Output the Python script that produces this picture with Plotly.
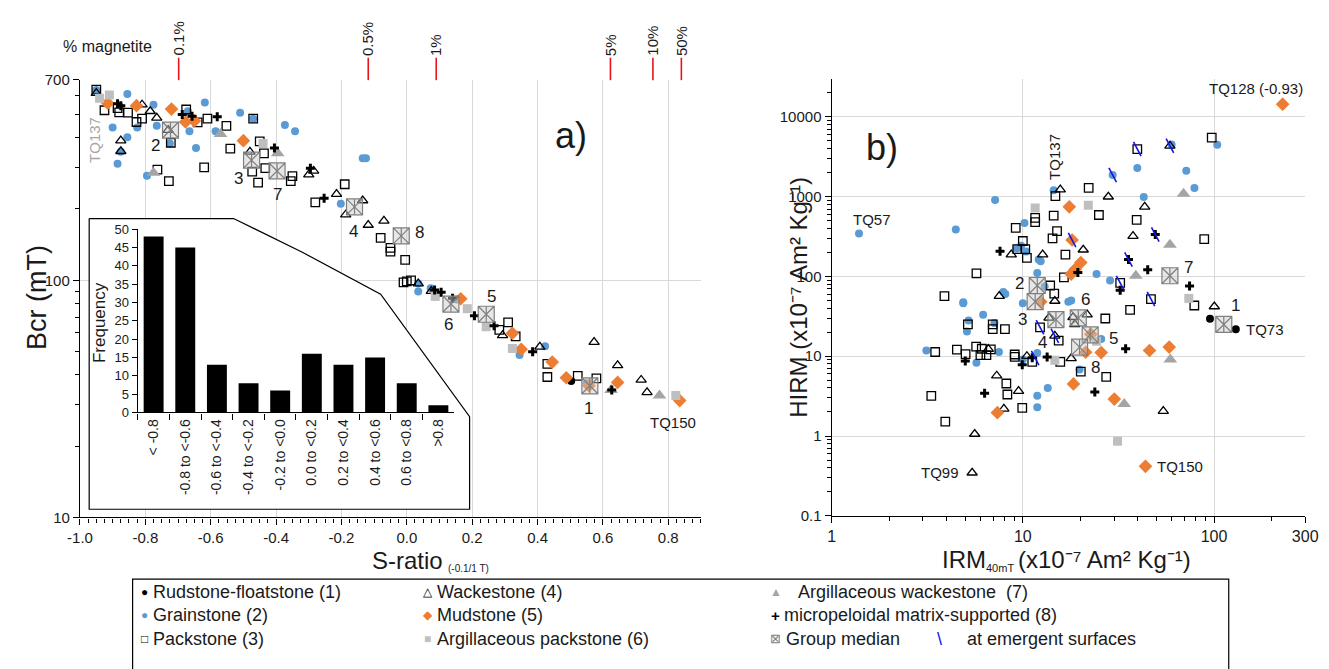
import math
import plotly.graph_objects as go

W, H = 1329, 669
FONT = "Liberation Sans, Arial, Helvetica, sans-serif"
INK = "#1a1a1a"
BLUE = "#5B9BD5"
ORANGE = "#ED7D31"
LIGHT_GRAY = "#BFBFBF"
MID_GRAY = "#A5A5A5"
GRID = "#D9D9D9"
EMERGENT = "#1414E6"
MEDIAN_LINE = "#7F7F7F"

# ---------------------------------------------------------------- panel a
# S-ratio (-0.1/1 T) and Bcr (mT) for each lithofacies group
rud_a_s = [0.503, 0.553]
rud_a_bcr = [37.6, 36.2]

grain_a_s = [-0.950, -0.855, -0.900, -0.855, -0.885, -0.825, -0.775, -0.765, -0.670, -0.665,
             -0.645, -0.618, -0.585, -0.510, -0.470, -0.373, -0.342, -0.135, -0.125, -0.202,
             -0.795, -0.875, -0.725, 0.035, 0.073, 0.035, 0.153, 0.345, 0.423, 0.550]
grain_a_bcr = [634, 610, 441, 401, 310, 441, 550, 448, 516, 425,
               361, 562, 425, 508, 480, 452, 425, 327, 327, 210,
               276, 348, 377, 89.6, 92.5, 97, 83, 48.4, 52.7, 36.8]

pack_a_s = [-0.950, -0.925, -0.885, -0.880, -0.853, -0.827, -0.810, -0.675, -0.640, -0.610,
            -0.552, -0.540, -0.620, -0.763, -0.728, -0.722, -0.470, -0.450, -0.437, -0.433,
            -0.455, -0.473, -0.350, -0.355, -0.280, -0.190, -0.080, -0.050, -0.050, -0.005,
            -0.010, 0.000, 0.013, 0.310, 0.283, 0.333, 0.430, 0.430, 0.523, 0.580]
pack_a_bcr = [637, 521, 532, 510, 509, 465, 480, 525, 463, 480,
              448, 359, 299, 293, 262, 380, 480, 385, 343, 297,
              258, 287, 275, 262, 213, 254, 151, 137, 132, 122,
              98, 99, 100, 66.4, 61.8, 58.0, 44.4, 39.1, 39.5, 38.6]

wack_a_s = [-0.950, -0.810, -0.785, -0.765, -0.875, -0.875, -0.730, -0.480, -0.300, -0.285,
            -0.215, -0.135, -0.187, -0.118, -0.070, 0.035, 0.075, 0.293, 0.407, 0.573,
            0.645, 0.717, 0.735]
wack_a_bcr = [615, 550, 516, 484, 388, 350, 430, 348, 279, 289,
              231, 217, 189, 171, 178, 96.8, 90.0, 58.6, 52.4, 54.9,
              43.8, 38.0, 33.7]

mud_a_s = [-0.915, -0.827, -0.720, -0.677, -0.650, -0.500, 0.165, 0.323, 0.350, 0.445,
           0.488, 0.557, 0.645, 0.835]
mud_a_bcr = [558, 545, 527, 465, 470, 388, 83.6, 59.8, 51.2, 45.2,
             38.8, 35.9, 37.1, 31.1]

argpack_a_s = [-0.940, -0.910, -0.440, 0.087, 0.185, 0.243, 0.323, 0.823]
argpack_a_bcr = [585, 604, 377, 85.5, 75.9, 63.7, 51.6, 32.7]

argwack_a_s = [-0.775, -0.570, -0.395, 0.625, 0.773]
argwack_a_bcr = [284, 414, 343, 34.5, 32.7]

micro_a_s = [-0.885, -0.875, -0.687, -0.657, -0.580, -0.405, -0.295, -0.253, 0.085, 0.105,
             0.140, 0.207, 0.267, 0.385, 0.627]
micro_a_bcr = [555, 545, 500, 492, 489, 361, 297, 222, 91, 89,
               84, 70.8, 64.3, 50.0, 34.5]

group_ids = ["1", "2", "3", "4", "5", "6", "7", "8"]
med_a_s = [0.560, -0.723, -0.475, -0.160, 0.243, 0.135, -0.397, -0.017]
med_a_bcr = [35.9, 430, 321, 204, 71.9, 79.4, 289, 154]

s_ratio_ticks = [-1.0, -0.8, -0.6, -0.4, -0.2, 0.0, 0.2, 0.4, 0.6, 0.8]
bcr_ticks = [10, 100, 700]

# magnetite content equivalent to given S-ratio
magnetite_labels = ["0.1%", "0.5%", "1%", "5%", "10%", "50%"]
magnetite_s = [-0.698, -0.118, 0.090, 0.623, 0.753, 0.840]

# histogram of S-ratio
s_bins = ["< -0.8", "-0.8 to <-0.6", "-0.6 to <-0.4", "-0.4 to <-0.2", "-0.2 to <0.0",
          "0.0 to <0.2", "0.2 to <0.4", "0.4 to <0.6", "0.6 to <0.8", ">0.8"]
s_freq = [48, 45, 13, 8, 6, 16, 13, 15, 8, 2]

# ---------------------------------------------------------------- panel b
# IRM40mT and HIRM (x10^-7 Am2 kg-1)
rud_b_irm = [95.3, 130]
rud_b_hirm = [29.4, 21.8]

grain_b_irm = [1.39, 4.46, 7.16, 10.2, 9.8, 9.3, 10.4, 12.1, 11.9, 7.9,
               8.1, 4.88, 14.5, 24.3, 28.6, 39.7, 29.5, 71.6, 79, 42.9,
               104, 60, 3.13, 5.72, 7.5, 10.0, 11.9, 11.9, 11.9, 13.5,
               6.2, 7.1, 5.2, 5.1, 4.88, 10.0, 17.3, 17.9, 25.7, 19.8,
               13.0, 12.4]
grain_b_hirm = [345, 386, 906, 467, 242, 224, 205, 163, 110, 64,
                60, 47.6, 1200, 107, 88.7, 2290, 1866, 2110, 1285, 986,
                4470, 4500, 11.8, 8.3, 11.3, 9.1, 11.0, 2.3, 3.19, 3.99,
                33, 26, 28, 20.4, 46, 46, 48, 50, 16.4, 6.8,
                75, 155]

pack_b_irm = [11.6, 11.6, 9.18, 10.0, 9.35, 10.3, 10.5, 5.72, 3.89, 22.1,
              25.0, 14.8, 14.5, 15.1, 14.3, 16.7, 16.4, 32.3, 46.8, 39.7,
              97.3, 39.4, 88.9, 27.0, 36.4, 78.9, 27.3, 20.1, 3.93, 3.32,
              9.93, 8.2, 8.3, 3.48, 4.52, 5.02, 5.7, 6.1, 6.0, 6.45,
              6.8, 6.96, 6.96, 5.16, 8.06, 9.07, 9.07, 11.2, 12.3, 13.9,
              14.6, 15.7, 15.4]
pack_b_hirm = [542, 480, 405, 278, 220, 220, 171, 109, 56.6, 1285,
               589, 1014, 578, 369, 300, 188, 97.5, 83, 52, 3950,
               5480, 511, 294, 29.7, 38, 43.2, 5.5, 6.4, 1.51, 3.19,
               2.25, 4.55, 3.31, 11.3, 12.1, 10.6, 13.2, 12.4, 10.3, 10.3,
               12.2, 21.8, 25, 25, 21.8, 10.5, 9.8, 8.5, 23, 77,
               61, 8.5, 15.7]

wack_b_irm = [8.7, 12.7, 7.53, 15.7, 20.7, 58.8, 28.0, 43.4, 37.7, 100.4,
              54.3, 5.43, 5.6, 7.96, 7.3, 9.5, 6.6, 10.5, 14.7, 13.7,
              14.7, 18.3, 18.7, 21.7, 17.9]
wack_b_hirm = [188, 188, 56.6, 1225, 216, 4330, 997, 745, 320, 42,
               2.05, 0.346, 1.06, 2.19, 5.7, 3.66, 12.3, 10.0, 49.2, 30.2,
               18, 30.8, 25, 33.2, 9.4]

mud_b_irm = [228.6, 17.5, 18.1, 20.1, 18.8, 17.9, 7.36, 18.4, 30.1, 46.0,
             58.3, 25.7, 22.7, 21.3, 43.8, 12.4]
mud_b_hirm = [14420, 745, 286, 149, 123, 107, 1.96, 4.5, 2.9, 11.8,
              13.0, 11.1, 18.9, 11.2, 0.417, 48]

argpack_b_irm = [11.6, 22.0, 24.3, 31.3, 73.8, 14.7]
argpack_b_hirm = [718, 781, 15.4, 0.86, 53, 8.9]

argwack_b_irm = [69.3, 58.8, 39.0, 59.1, 33.9]
argwack_b_hirm = [1084, 249, 102, 9.1, 2.52]

micro_b_irm = [7.6, 19.4, 32.3, 35.7, 49.3, 45.0, 74.5, 5.0, 6.31, 9.93,
               11.2, 13.4, 34.5, 23.8]
micro_b_hirm = [207, 112, 67, 163, 336, 121, 75.7, 8.7, 3.44, 7.8,
                9.6, 9.8, 12.4, 3.56]

# samples taken at emergent surfaces
emergent_irm = [39.7, 58.8, 29.5, 18.1, 35.7, 49.3, 32.3, 46.8, 12.3, 14.7, 11.6]
emergent_hirm = [3950, 4330, 1866, 286, 163, 336, 83, 52, 23, 18, 9.5]

med_b_irm = [112.5, 11.9, 11.6, 14.9, 22.5, 19.5, 58.8, 19.8]
med_b_hirm = [25, 77, 48.3, 28.8, 18.5, 30.2, 102, 13]

irm_ticks = [1, 10, 100, 300]
hirm_ticks = [0.1, 1, 10, 100, 1000, 10000]

# ---------------------------------------------------------------- styling
def fx(px):
    return px / W


def fy(py):
    return 1 - py / H


MARKERS = {
    "rud": dict(symbol="circle", size=8, color="black"),
    "grain": dict(symbol="circle", size=8, color=BLUE),
    "pack": dict(symbol="square-open", size=8.5, color="black", line=dict(width=1.3, color="black")),
    "wack": dict(symbol="triangle-up-open", size=9, color="black", line=dict(width=1.3, color="black")),
    "mud": dict(symbol="diamond", size=10.5, color=ORANGE),
    "argpack": dict(symbol="square", size=9, color=LIGHT_GRAY),
    "argwack": dict(symbol="triangle-up", size=12, color=MID_GRAY),
    "micro": dict(symbol="cross", size=7.5, color="black"),
}

fig = go.Figure()


def scatter(x, y, key, xa, ya):
    fig.add_trace(go.Scatter(x=x, y=y, mode="markers", marker=MARKERS[key],
                             xaxis=xa, yaxis=ya, hoverinfo="skip", showlegend=False))


def medians(x, y, xa, ya):
    fig.add_trace(go.Scatter(x=x, y=y, mode="markers", xaxis=xa, yaxis=ya,
                             marker=dict(symbol="square-x", size=16, color="rgba(200,200,200,0.45)",
                                         line=dict(color=MEDIAN_LINE, width=1.2)),
                             hoverinfo="skip", showlegend=False))
    fig.add_trace(go.Scatter(x=x, y=y, mode="markers", xaxis=xa, yaxis=ya,
                             marker=dict(symbol="line-ns-open", size=11, color=MEDIAN_LINE,
                                         line=dict(color=MEDIAN_LINE, width=1.2)),
                             hoverinfo="skip", showlegend=False))


panel_a = [("rud", rud_a_s, rud_a_bcr), ("grain", grain_a_s, grain_a_bcr), ("pack", pack_a_s, pack_a_bcr),
           ("wack", wack_a_s, wack_a_bcr), ("mud", mud_a_s, mud_a_bcr), ("argpack", argpack_a_s, argpack_a_bcr),
           ("argwack", argwack_a_s, argwack_a_bcr), ("micro", micro_a_s, micro_a_bcr)]
for key, xs, ys in panel_a:
    scatter(xs, ys, key, "x", "y")
medians(med_a_s, med_a_bcr, "x", "y")

panel_b = [("rud", rud_b_irm, rud_b_hirm), ("grain", grain_b_irm, grain_b_hirm), ("pack", pack_b_irm, pack_b_hirm),
           ("wack", wack_b_irm, wack_b_hirm), ("mud", mud_b_irm, mud_b_hirm), ("argpack", argpack_b_irm, argpack_b_hirm),
           ("argwack", argwack_b_irm, argwack_b_hirm), ("micro", micro_b_irm, micro_b_hirm)]
for key, xs, ys in panel_b:
    scatter(xs, ys, key, "x2", "y2")
medians(med_b_irm, med_b_hirm, "x2", "y2")
fig.add_trace(go.Scatter(x=emergent_irm, y=emergent_hirm, mode="markers", xaxis="x2", yaxis="y2",
                         marker=dict(symbol="line-ns-open", size=11.5, angle=-28, color=EMERGENT,
                                     line=dict(color=EMERGENT, width=1.6)),
                         hoverinfo="skip", showlegend=False))

# white call-out frame behind the histogram (drawn in its own overlay subplot)
callout = [(0, 1), (0.3796, 1), (0.559, 0.885), (0.7662, 0.7395), (1, 0.3185), (1, 0), (0, 0), (0, 1)]
fig.add_trace(go.Scatter(x=[p[0] for p in callout], y=[p[1] for p in callout], mode="lines",
                         fill="toself", fillcolor="white", line=dict(color="black", width=1.2),
                         xaxis="x3", yaxis="y3", hoverinfo="skip", showlegend=False))

# histogram
fig.add_trace(go.Bar(x=s_bins, y=s_freq, marker=dict(color="black", line=dict(width=0)),
                     xaxis="x4", yaxis="y4", hoverinfo="skip", showlegend=False))

axis_common = dict(showline=True, linecolor="black", linewidth=1.3, ticks="outside", tickcolor="black",
                   zeroline=False, fixedrange=True)

pad = 0.02
cx0, cx1, cy0, cy1 = 77.7, 465.7, 215.0, 513.3
cw, ch = cx1 - cx0, cy1 - cy0

fig.update_layout(
    width=W, height=H, autosize=False, margin=dict(l=0, r=0, t=0, b=0),
    paper_bgcolor="white", plot_bgcolor="rgba(0,0,0,0)",
    font=dict(family=FONT, color=INK, size=15), showlegend=False, bargap=0.37,
    xaxis=dict(axis_common, domain=[fx(68.3), fx(701.7)], range=[-1.0, 0.9], anchor="y",
               tickmode="array", tickvals=s_ratio_ticks, ticktext=[f"{v:.1f}" for v in s_ratio_ticks],
               ticklen=6, showgrid=True, gridcolor=GRID, gridwidth=1, tickfont=dict(size=15),
               minor=dict(ticks="outside", ticklen=4, dtick=0.025, tick0=-1.0, tickcolor="black", showgrid=False)),
    yaxis=dict(axis_common, type="log", domain=[fy(521.7), fy(72.7)],
               range=[1, math.log10(700) + 1e-9], anchor="x",
               tickmode="array", tickvals=bcr_ticks, ticktext=[str(v) for v in bcr_ticks],
               ticklen=6, showgrid=True, gridcolor=GRID, tickfont=dict(size=15),
               minor=dict(ticks="outside", ticklen=4, tickcolor="black", showgrid=False,
                          tickvals=[20, 30, 40, 50, 60, 70, 80, 90, 200, 300, 400, 500, 600])),
    xaxis2=dict(axis_common, type="log", domain=[fx(835), fx(1318)],
                range=[0, math.log10(300) + 1e-9], anchor="y2",
                tickmode="array", tickvals=irm_ticks, ticktext=[str(v) for v in irm_ticks],
                ticklen=6, showgrid=True, gridcolor=GRID, tickfont=dict(size=16),
                ticklabeloverflow="allow",
                minor=dict(ticks="outside", ticklen=4, tickcolor="black", showgrid=False,
                           tickvals=[2, 3, 4, 5, 6, 7, 8, 9, 20, 30, 40, 50, 60, 70, 80, 90, 200])),
    yaxis2=dict(axis_common, type="log", domain=[fy(520), fy(71.6)],
                range=[-1 - 1e-9, math.log10(30000)], anchor="x2",
                tickmode="array", tickvals=hirm_ticks,
                ticktext=["0.1", "1", "10", "100", "1000", "10000"],
                ticklen=6, showgrid=True, gridcolor=GRID, tickfont=dict(size=15),
                minor=dict(ticks="outside", ticklen=4, tickcolor="black", showgrid=False,
                           tickvals=[m * 10 ** e for e in range(-1, 5) for m in range(2, 10)
                                     if m * 10 ** e < 30000])),
    xaxis3=dict(domain=[fx(cx0 - pad * cw), fx(cx1 + pad * cw)], range=[-pad, 1 + pad],
                visible=False, anchor="y3", fixedrange=True),
    yaxis3=dict(domain=[fy(cy1 + pad * ch), fy(cy0 - pad * ch)], range=[-pad, 1 + pad],
                visible=False, anchor="x3", fixedrange=True),
    xaxis4=dict(axis_common, domain=[fx(127.3), fx(450)], anchor="y4", type="category",
                tickson="boundaries", ticklen=6, tickangle=-90, showgrid=False,
                tickfont=dict(size=14, color=INK)),
    yaxis4=dict(axis_common, domain=[fy(414), fy(226)], anchor="x4", range=[0, 50],
                tickmode="linear", tick0=0, dtick=5, ticklen=5, showgrid=False,
                tickfont=dict(size=13, color=INK)),
)

shapes = []
annotations = []


def note(text, x, y, xref="paper", yref="paper", size=15, color=INK, angle=0,
         xanchor="center", yanchor="middle", xshift=0, yshift=0):
    annotations.append(dict(text=text, x=x, y=y, xref=xref, yref=yref, showarrow=False,
                            font=dict(size=size, color=color, family=FONT), textangle=angle,
                            xanchor=xanchor, yanchor=yanchor, xshift=xshift, yshift=yshift,
                            borderpad=0))


# % magnetite scale along the top of panel a
note("% magnetite", fx(96), fy(38), size=16)
for lab, s in zip(magnetite_labels, magnetite_s):
    shapes.append(dict(type="line", xref="x", yref="paper", x0=s, x1=s, y0=fy(73), y1=fy(50),
                       line=dict(color="#E8141B", width=1.6)))
    note(lab, s, fy(49), xref="x", angle=-90, yanchor="bottom", size=15)

# axis titles (subscripts set as separate smaller runs)
note("Bcr (mT)", fx(25), fy(296), size=27, angle=-90)
note("S-ratio", fx(440), fy(566), size=24, xanchor="right")
note("(-0.1/1 T)", fx(443), fy(574), size=10, xanchor="left")
note("HIRM (x10⁻⁷ Am² Kg⁻¹)", fx(801), fy(296), size=24, angle=-90)
note("IRM", fx(993), fy(565), size=24, xanchor="right")
note("40mT", fx(991), fy(574), size=11, xanchor="left")
note("(x10⁻⁷ Am² Kg⁻¹)", fx(1024), fy(565), size=24, xanchor="left")
note("Frequency", fx(89), fy(322), size=17, angle=-90)

# panel letters
note("a)", fx(569), fy(130), size=36)
note("b)", fx(886), fy(142), size=36)

# group-median numbers
shift_a = {"1": (-1, -23), "2": (-15, -15), "3": (-13, -18), "4": (-1, -25),
           "5": (5, 18), "6": (-2, -20), "7": (0, -24), "8": (18, 3)}
shift_b = {"1": (12, 19), "2": (-18, 2), "3": (-13, -18), "4": (-13, -23),
           "5": (23, -4), "6": (7, 18), "7": (19, 8), "8": (16, -20)}
for gid, s, b in zip(group_ids, med_a_s, med_a_bcr):
    dx, dy = shift_a[gid]
    note(gid, s, math.log10(b), xref="x", yref="y", size=17, xshift=dx, yshift=dy)
for gid, i, h in zip(group_ids, med_b_irm, med_b_hirm):
    dx, dy = shift_b[gid]
    note(gid, math.log10(i), math.log10(h), xref="x2", yref="y2", size=17, xshift=dx, yshift=dy)

# individual sample names
note("TQ137", argpack_a_s[0], math.log10(argpack_a_bcr[0]), xref="x", yref="y",
     size=15, color="#A6A6A6", angle=-90, xshift=-5, yshift=-42)
note("TQ150", mud_a_s[-1], math.log10(mud_a_bcr[-1]), xref="x", yref="y", size=15, xshift=-7, yshift=-22)
note("TQ57", math.log10(grain_b_irm[0]), math.log10(grain_b_hirm[0]), xref="x2", yref="y2",
     size=15, xshift=13, yshift=14)
note("TQ137", math.log10(wack_b_irm[3]), math.log10(wack_b_hirm[3]), xref="x2", yref="y2",
     size=15, angle=-90, xshift=-6, yshift=33)
note("TQ128 (-0.93)", math.log10(mud_b_irm[0]), math.log10(mud_b_hirm[0]), xref="x2", yref="y2",
     size=15, xshift=-27, yshift=16)
note("TQ99", math.log10(wack_b_irm[11]), math.log10(wack_b_hirm[11]), xref="x2", yref="y2",
     size=15, xshift=-32)
note("TQ150", math.log10(mud_b_irm[14]), math.log10(mud_b_hirm[14]), xref="x2", yref="y2",
     size=15, xshift=35)
note("TQ73", math.log10(rud_b_irm[1]), math.log10(rud_b_hirm[1]), xref="x2", yref="y2",
     size=15, xshift=29)

# legend box (runs off the lower edge of the figure)
shapes.append(dict(type="rect", xref="paper", yref="paper", x0=fx(122), x1=fx(1240), y0=fy(680), y1=fy(585),
                   line=dict(color="black", width=1.2), fillcolor="rgba(0,0,0,0)"))
legend_rows = [598, 622, 646]
legend_items = [
    # glyph, colour, glyph size, glyph x, label, label x, row
    ("●", "black", 12, 134, "Rudstone-floatstone (1)", 142, 0),
    ("●", BLUE, 12, 134, "Grainstone (2)", 142, 1),
    ("□", "black", 12, 134, "Packstone (3)", 142, 2),
    ("△", "black", 12, 423, "Wackestone (4)", 431, 0),
    ("◆", ORANGE, 12, 423, "Mudstone (5)", 431, 1),
    ("■", LIGHT_GRAY, 12, 423, "Argillaceous packstone (6)", 431, 2),
    ("▲", MID_GRAY, 12, 778, "Argillaceous wackestone  (7)", 800, 0),
    ("<b>+</b>", "black", 15, 778, "micropeloidal matrix-supported (8)", 785, 1),
    ("⊠", MEDIAN_LINE, 13, 778, "Group median", 787, 2),
    ("\\", EMERGENT, 18, 945, "at emergent surfaces", 972, 2),
]
for glyph, col, gsize, gx, label, lx, row in legend_items:
    ypos = fy(legend_rows[row])
    note(glyph, fx(gx), ypos, size=gsize, color=col)
    note(label, fx(lx), ypos, size=18, xanchor="left")

fig.update_layout(shapes=shapes, annotations=annotations)
fig.write_html("out.html")
